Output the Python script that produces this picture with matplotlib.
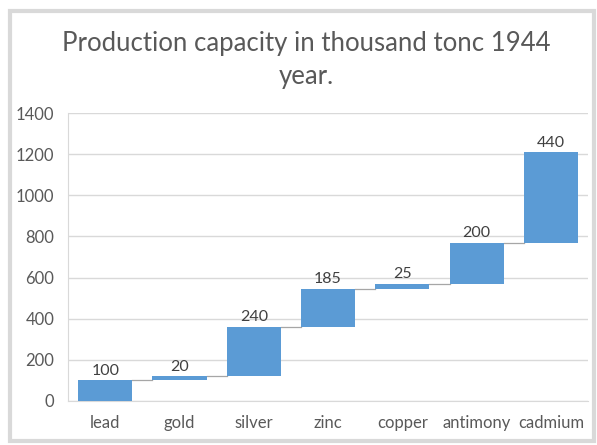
import matplotlib.pyplot as plt
import numpy as np
from matplotlib.patches import Rectangle

categories = ['lead', 'gold', 'silver', 'zinc', 'copper', 'antimony', 'cadmium']
values = np.array([100, 20, 240, 185, 25, 200, 440])

if __name__ == '__main__':
    plt.rcParams['font.family'] = ['Lato', 'DejaVu Sans']
    text_color = '#595959'

    ends = np.cumsum(values)
    starts = ends - values

    fig = plt.figure(figsize=(5.97, 4.45), dpi=100)
    ax = fig.add_axes([0.114, 0.099, 0.871, 0.647])

    x = np.arange(len(categories))
    bar_width = 0.73
    ax.bar(x, values, bottom=starts, width=bar_width, color='#5b9bd5', zorder=3)

    # connectors between bars
    for i in range(len(x) - 1):
        ax.plot([x[i] + bar_width / 2, x[i + 1] - bar_width / 2], [ends[i], ends[i]],
                color='#a6a6a6', lw=0.9, zorder=2)

    for xi, top, v in zip(x, ends, values):
        ax.text(xi, top + 12, str(v), ha='center', va='bottom', fontsize=11.5, color='#404040')

    ax.set_xlim(-0.5, len(x) - 0.5)
    ax.set_ylim(0, 1400)
    ax.set_yticks(np.arange(0, 1401, 200))
    ax.set_xticks(x)
    ax.set_xticklabels(categories)
    ax.yaxis.grid(True, color='#d9d9d9', lw=1, zorder=0)
    ax.tick_params(length=0, labelsize=12, colors=text_color)
    ax.tick_params(axis='x', pad=10)
    ax.tick_params(axis='y', pad=10)
    for side in ['top', 'right']:
        ax.spines[side].set_visible(False)
    ax.spines['left'].set_color('#d9d9d9')
    ax.spines['bottom'].set_color('#d9d9d9')

    fig.text(0.513, 0.866, 'Production capacity in thousand tonc 1944\nyear.',
             ha='center', va='center', fontsize=18.5, color=text_color, linespacing=1.4)

    # chart frame
    x0, x1 = 9.5 / 597, 594 / 597
    y0, y1 = 1 - 441 / 445, 1 - 11 / 445
    frame = Rectangle((x0, y0), x1 - x0, y1 - y0, transform=fig.transFigure,
                      fill=False, edgecolor='#d9d9d9', lw=3, zorder=10)
    fig.add_artist(frame)

    plt.savefig('out.png', dpi=100)
